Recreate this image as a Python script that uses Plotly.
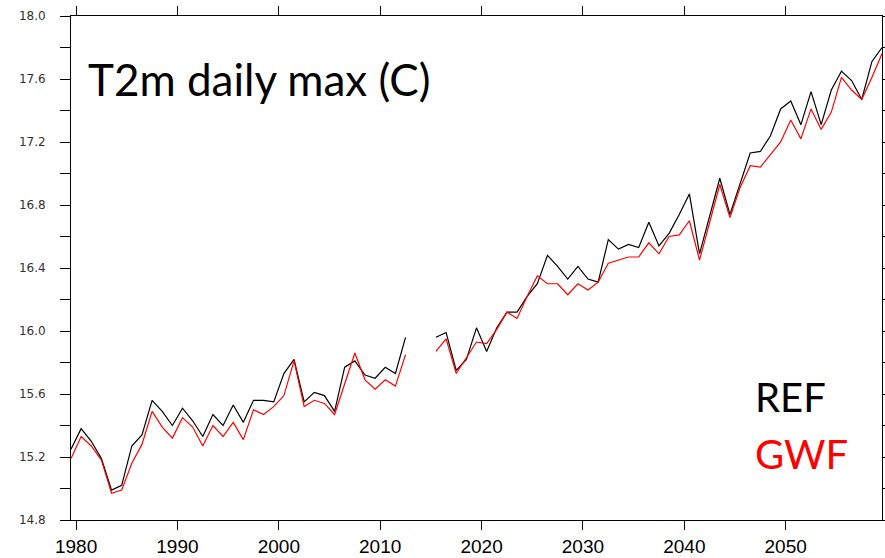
import plotly.graph_objects as go

years = list(range(1979, 2060))

ref = [15.25, 15.38, 15.30, 15.19, 14.99, 15.02, 15.27, 15.34, 15.56, 15.49,
       15.40, 15.51, 15.43, 15.33, 15.47, 15.40, 15.53, 15.42, 15.56, 15.56,
       15.55, 15.73, 15.82, 15.55, 15.61, 15.59, 15.49, 15.77, 15.81, 15.72,
       15.70, 15.77, 15.73, 15.96, None, None, 15.96, 15.99, 15.75, 15.82,
       16.02, 15.87, 16.02, 16.12, 16.12, 16.22, 16.30, 16.48, 16.41, 16.33,
       16.41, 16.33, 16.31, 16.58, 16.52, 16.55, 16.53, 16.69, 16.54, 16.62,
       16.74, 16.87, 16.49, 16.73, 16.97, 16.74, 16.94, 17.13, 17.14, 17.24,
       17.41, 17.46, 17.31, 17.52, 17.31, 17.53, 17.65, 17.59, 17.47, 17.71,
       17.80]

gwf = [15.19, 15.33, 15.27, 15.18, 14.97, 14.99, 15.16, 15.28, 15.49, 15.39,
       15.32, 15.45, 15.39, 15.27, 15.40, 15.33, 15.42, 15.31, 15.50, 15.47,
       15.52, 15.59, 15.81, 15.52, 15.56, 15.54, 15.47, 15.67, 15.86, 15.69,
       15.63, 15.69, 15.65, 15.85, None, None, 15.87, 15.95, 15.73, 15.83,
       15.93, 15.92, 16.01, 16.12, 16.08, 16.22, 16.35, 16.30, 16.30, 16.23,
       16.30, 16.26, 16.31, 16.43, 16.45, 16.47, 16.47, 16.56, 16.49, 16.60,
       16.61, 16.70, 16.45, 16.69, 16.93, 16.72, 16.91, 17.05, 17.04, 17.12,
       17.20, 17.34, 17.22, 17.41, 17.28, 17.39, 17.61, 17.53, 17.47, 17.61,
       17.76]

x_ticks = [1980, 1990, 2000, 2010, 2020, 2030, 2040, 2050]
y_ticks = [14.8, 15.2, 15.6, 16.0, 16.4, 16.8, 17.2, 17.6, 18.0]

# annual means plotted at mid-year
xmid = [y + 0.5 for y in years]

fig = go.Figure()
fig.add_trace(go.Scatter(x=xmid, y=ref, mode="lines", name="REF",
                         line=dict(color="black", width=1.2), connectgaps=False))
fig.add_trace(go.Scatter(x=xmid, y=gwf, mode="lines", name="GWF",
                         line=dict(color="#ff0000", width=1.2), connectgaps=False))

fig.update_layout(
    width=885, height=558,
    margin=dict(l=71, r=3, t=16, b=38),
    paper_bgcolor="white", plot_bgcolor="white",
    showlegend=False,
    xaxis=dict(range=[xmid[0], xmid[-1]], tickvals=x_ticks,
               ticktext=[str(v) for v in x_ticks], automargin=False,
               showgrid=False, zeroline=False, showline=True, linecolor="black",
               linewidth=1, mirror="allticks", ticks="outside", ticklen=9,
               tickcolor="black", tickwidth=1, ticklabelstandoff=0,
               tickfont=dict(family="Liberation Sans Narrow, Liberation Sans", size=19, color="black")),
    yaxis=dict(range=[14.8, 18.0], tickvals=y_ticks, automargin=False,
               ticktext=[f"{v:.1f}" for v in y_ticks],
               showgrid=False, zeroline=False, showline=True, linecolor="black",
               linewidth=1, mirror="allticks", ticks="outside", ticklen=10,
               tickcolor="black", tickwidth=1,
               ticklabelstandoff=12,
               minor=dict(dtick=0.2, tick0=14.8, ticks="outside", ticklen=10,
                          tickcolor="black", showgrid=False),
               tickfont=dict(family="DejaVu Sans", size=12, color="#333333")),
    annotations=[
        dict(text="T2m daily max (C)", xref="paper", yref="paper",
             x=0.019, y=0.875, xanchor="left", yanchor="middle", showarrow=False,
             font=dict(family="Lato, Open Sans", size=44, color="black")),
        dict(text="REF", xref="paper", yref="paper",
             x=0.841, y=0.245, xanchor="left", yanchor="middle", showarrow=False,
             font=dict(family="Lato, Open Sans", size=40, color="black")),
        dict(text="GWF", xref="paper", yref="paper",
             x=0.841, y=0.13, xanchor="left", yanchor="middle", showarrow=False,
             font=dict(family="Lato, Open Sans", size=40, color="#ff0000")),
    ],
)

fig.write_html("out.html")
